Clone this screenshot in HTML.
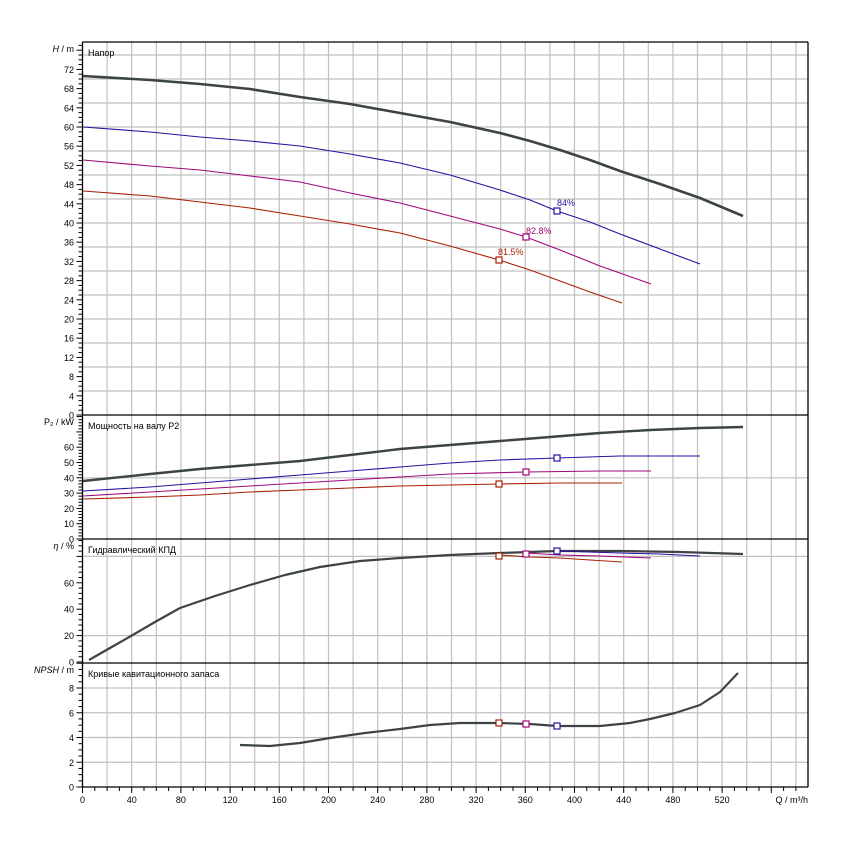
<!DOCTYPE html>
<html><head><meta charset="utf-8"><style>
html,body{margin:0;padding:0;background:#fff;}
svg{display:block;font-family:"Liberation Sans","DejaVu Sans",sans-serif;}
</style></head><body>
<svg id="s" width="850" height="850" xmlns="http://www.w3.org/2000/svg"></svg>
<script>
var s=document.getElementById('s'),h='';
var L=82.5,R=808;
function X(q){return L+1.23*q;}
function line(x1,y1,x2,y2,c,w){h+='<line x1="'+x1+'" y1="'+y1+'" x2="'+x2+'" y2="'+y2+'" stroke="'+c+'" stroke-width="'+w+'"/>';}
function txt(x,y,t,a,extra){h+='<text x="'+x+'" y="'+y+'" font-size="9" fill="#000" text-anchor="'+(a||'start')+'" '+(extra||'')+'>'+t+'</text>';}
var P=[
 {t:42,b:415,z:415,k:4.8,lab:[0,72,4],grid:[5,10,15,20,25,30,35,40,45,50,55,60,65,70,75],m:1,title:'Напор',yl:'<tspan font-style="italic">H</tspan> / m'},
 {t:415,b:539,z:539,k:1.53,lab:[0,60,10],grid:[40],m:2,title:'Мощность на валу P2',yl:'P₂ / kW'},
 {t:539,b:663,z:662,k:1.32,lab:[0,60,20],grid:[20,80],m:4,title:'Гидравлический КПД',yl:'<tspan font-style="italic">η</tspan> / %'},
 {t:663,b:787,z:787,k:12.375,lab:[0,8,2],grid:[2,4,6,8],m:0.5,title:'Кривые кавитационного запаса',yl:'<tspan font-style="italic">NPSH</tspan> / m'}
];
for(var q=20;X(q)<R-1;q+=20)line(X(q),42,X(q),787,'#c0c0c0',1.2);
P.forEach(function(p){
 p.grid.forEach(function(v){var y=p.z-v*p.k;if(y>p.t+1)line(L,y,R,y,'#c0c0c0',1.2);});
 for(var v=0;p.z-v*p.k>=p.t;v+=p.m){var y=p.z-v*p.k;var big=Math.abs(v/p.lab[2]-Math.round(v/p.lab[2]))<1e-6;line(L-(big?6:4),y,L,y,'#000',1);}
 for(var v=p.lab[0];v<=p.lab[1];v+=p.lab[2])txt(74,p.z-v*p.k+3.5,v,'end');
 txt(74,p.t+10,p.yl,'end');
 txt(88,p.t+14,p.title,'start');
 line(L,p.b,R,p.b,'#000',1.3);
});
line(L,42,R,42,'#000',1.3);line(L,42,L,787,'#000',1.3);line(R,42,R,787,'#000',1.3);
for(var q=0;X(q)<=R;q+=10){line(X(q),787,X(q),q%40==0?793:791,'#000',1);}
for(var q=0;q<=520;q+=40)txt(X(q),803,q,'middle');
txt(808,803,'Q / m³/h','end');
function pl(pts,c,w){h+='<polyline fill="none" stroke="'+c+'" stroke-width="'+w+'" stroke-linejoin="round" points="'+pts+'"/>';}
function mk(x,y,c){h+='<rect x="'+(x-3)+'" y="'+(y-3)+'" width="6" height="6" fill="#fff" stroke="'+c+'" stroke-width="1.2"/>';}
var G='#3c4448',B='#2a10a0',M='#a0087a',Rd='#a82000';
pl('83,76 150,80 200,84 250,89 300,97 350,104 400,113 450,122 500,133 530,141 560,150 590,160 620,171 660,184 700,198 743,216',G,2.6);
pl('83,127 150,132 200,137 250,141 300,146 350,154 400,163 450,175 500,190 530,200 557,211 590,222 620,234 660,249 700,264',B,1.1);
pl('83,160 150,166 200,170 250,176 300,182 350,193 400,203 450,216 500,229 526,237 560,250 600,266 651,284',M,1.1);
pl('83,191 150,196 200,202 250,208 300,216 350,224 400,233 450,246 499,260 530,270 560,281 590,292 622,303',Rd,1.1);
mk(557,211,B);mk(526,237,M);mk(499,260,Rd);
h+='<text x="557" y="206" font-size="9" fill="'+B+'">84%</text>';
h+='<text x="526" y="234" font-size="9" fill="'+M+'">82.8%</text>';
h+='<text x="498" y="255" font-size="9" fill="'+Rd+'">81.5%</text>';
pl('83,481 150,474 200,469 250,465 300,461 350,455 400,449 450,445 500,441 550,437 600,433 650,430 700,428 743,427',G,2.4);
pl('83,491 150,487 200,483 250,479 300,475 350,471 400,467 450,463 500,460 557,458 620,456 700,456',B,1.1);
pl('83,496 150,492 200,489 250,486 300,483 350,480 400,477 450,474 526,472 600,471 651,471',M,1.1);
pl('83,499 150,497 200,495 250,492 300,490 350,488 400,486 450,485 499,484 560,483 622,483',Rd,1.1);
mk(557,458,B);mk(526,472,M);mk(499,484,Rd);
pl('89,660 110,648 131,636 155,622 180,608 215,596 250,585 285,575 320,567 360,561 400,558 450,555 500,553 557,551 620,551 680,552 743,554',G,2.2);
pl('557,551 620,553 660,554 700,556',B,1.1);
pl('526,553 560,555 600,556 651,558',M,1.1);
pl('499,555 530,557 560,558 590,560 622,562',Rd,1.1);
mk(557,551,B);mk(526,554,M);mk(499,556,Rd);
pl('240,745 270,746 300,743 330,738 365,733 400,729 430,725 460,723 499,723 530,724 557,726 600,726 630,723 650,719 675,713 700,705 720,692 738,673',G,2.2);
mk(557,726,B);mk(526,724,M);mk(499,723,Rd);
s.innerHTML=h;
</script>
</body></html>
